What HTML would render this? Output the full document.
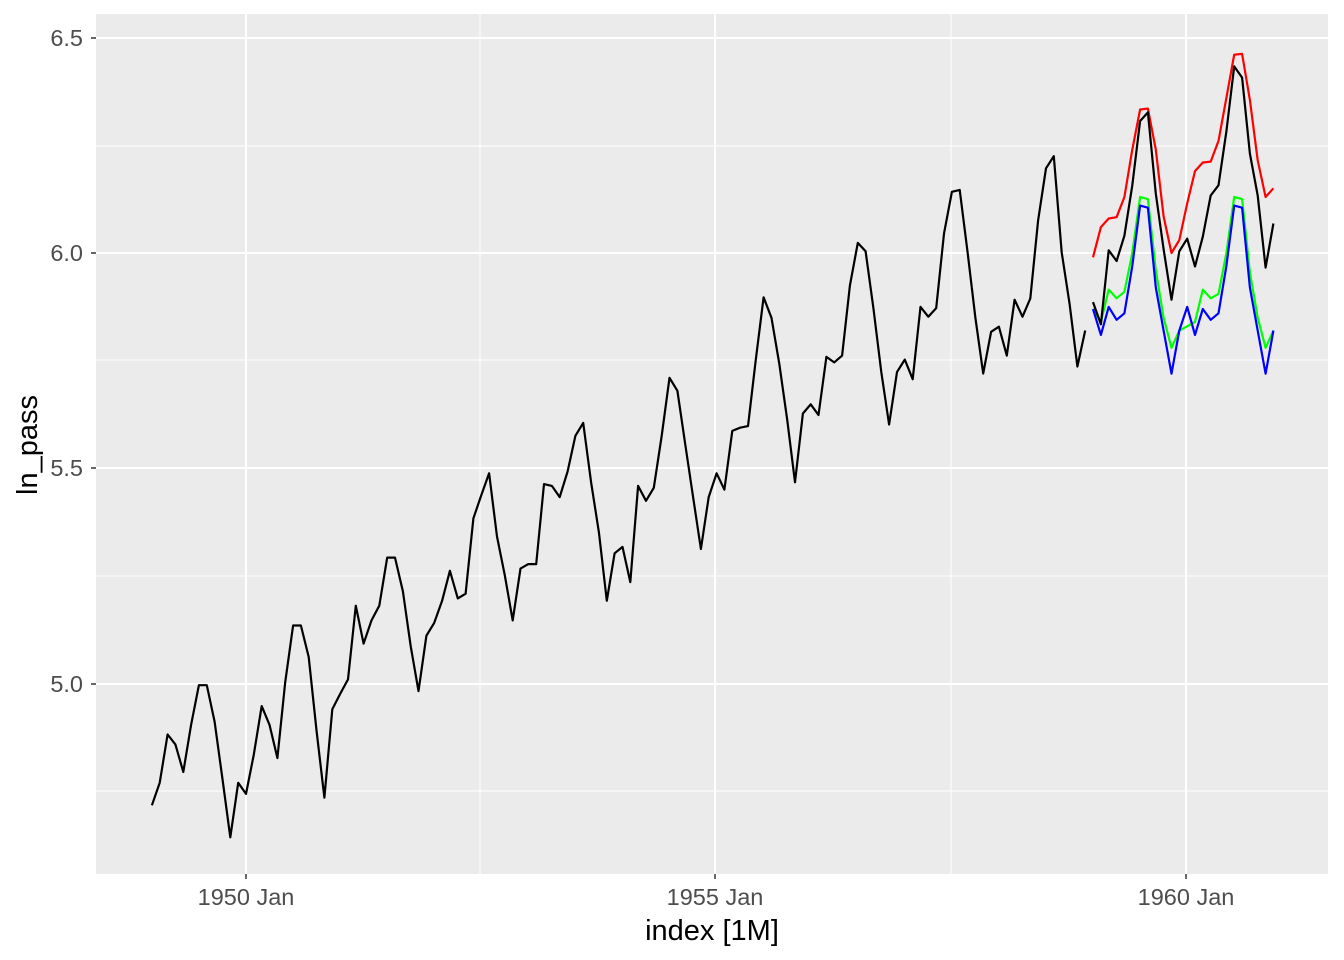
<!DOCTYPE html>
<html><head><meta charset="utf-8"><style>
html,body{margin:0;padding:0;background:#fff;}
svg{display:block;font-family:"Liberation Sans",Arial,sans-serif;}
</style></head><body>
<svg id="s" width="1344" height="960" xmlns="http://www.w3.org/2000/svg">
<rect x="96" y="14" width="1232" height="860" fill="#ebebeb"/>
<g stroke="#fff" stroke-width="1">
<line x1="96" x2="1328" y1="146" y2="146"/><line x1="96" x2="1328" y1="360" y2="360"/>
<line x1="96" x2="1328" y1="576" y2="576"/><line x1="96" x2="1328" y1="791" y2="791"/>
<line x1="480" x2="480" y1="14" y2="874"/><line x1="951" x2="951" y1="14" y2="874"/>
</g>
<g stroke="#fff" stroke-width="2">
<line x1="96" x2="1328" y1="38" y2="38"/><line x1="96" x2="1328" y1="253" y2="253"/>
<line x1="96" x2="1328" y1="468" y2="468"/><line x1="96" x2="1328" y1="684" y2="684"/>
<line x1="246" x2="246" y1="14" y2="874"/><line x1="715" x2="715" y1="14" y2="874"/>
<line x1="1186" x2="1186" y1="14" y2="874"/>
</g>
<g stroke="#333" stroke-width="1.5">
<line x1="91" x2="96" y1="38" y2="38"/><line x1="91" x2="96" y1="253" y2="253"/>
<line x1="91" x2="96" y1="468" y2="468"/><line x1="91" x2="96" y1="684" y2="684"/>
<line x1="246" x2="246" y1="874" y2="879"/><line x1="715" x2="715" y1="874" y2="879"/>
<line x1="1186" x2="1186" y1="874" y2="879"/>
</g>
<g fill="#4d4d4d" font-size="23.5" text-anchor="end">
<text x="83" y="46">6.5</text><text x="83" y="261">6.0</text>
<text x="83" y="476">5.5</text><text x="83" y="692">5.0</text>
</g>
<g fill="#4d4d4d" font-size="23.5" text-anchor="middle">
<text x="246" y="905">1950 Jan</text><text x="715" y="905">1955 Jan</text><text x="1186" y="905">1960 Jan</text>
</g>
<text x="712" y="940" font-size="29" text-anchor="middle" fill="#000">index [1M]</text>
<text transform="translate(37,445) rotate(-90)" font-size="29" text-anchor="middle" fill="#000">ln_pass</text>
<g id="lines" fill="none" stroke-width="2.2" stroke-linejoin="round"></g>
</svg>
<script>
var ap=[112,118,132,129,121,135,148,148,136,119,104,118,115,126,141,135,125,149,170,170,158,133,114,140,145,150,178,163,172,178,199,199,184,162,146,166,171,180,193,181,183,218,230,242,209,191,172,194,196,196,236,235,229,243,264,272,237,211,180,201,204,188,235,227,234,264,302,293,259,229,203,229,242,233,267,269,270,315,364,347,312,274,237,278,284,277,317,313,318,374,413,405,355,306,271,306,315,301,356,348,355,422,465,467,404,347,305,336,340,318,362,348,363,435,491,505,404,359,310,337,360,342,406,396,420,472,548,559,463,407,362,405,417,391,419,461,472,535,622,606,508,461,390,432];
function X(m){return 246+(m-12)*7.843;}function Y(v){return 253-(v-6)*431;}
function pl(vals,start,col){var p=vals.map(function(v,i){return X(start+i).toFixed(1)+","+Y(v).toFixed(1)}).join(" ");
var e=document.createElementNS("http://www.w3.org/2000/svg","polyline");e.setAttribute("points",p);e.setAttribute("stroke",col);document.getElementById("lines").appendChild(e);}
var red=[5.99,6.06,6.08,6.083,6.13,6.24,6.333,6.335,6.24,6.085,6.0,6.03,6.115,6.19,6.21,6.212,6.26,6.36,6.46,6.462,6.355,6.215,6.13,6.15];
var grn=[5.87,5.84,5.915,5.895,5.91,6.0,6.13,6.125,5.96,5.85,5.78,5.82,5.83,5.84,5.915,5.895,5.905,6.0,6.13,6.125,5.955,5.85,5.78,5.82];
var blu=[5.87,5.81,5.875,5.845,5.86,5.97,6.11,6.105,5.92,5.82,5.72,5.82,5.875,5.81,5.87,5.845,5.86,5.97,6.11,6.105,5.92,5.82,5.72,5.82];
pl(ap.slice(0,120).map(Math.log),0,"#000");
pl(red,120,"#ff0000");pl(grn,120,"#00ff00");pl(ap.slice(120).map(Math.log),120,"#000");pl(blu,120,"#0000ff");
</script>
</body></html>
